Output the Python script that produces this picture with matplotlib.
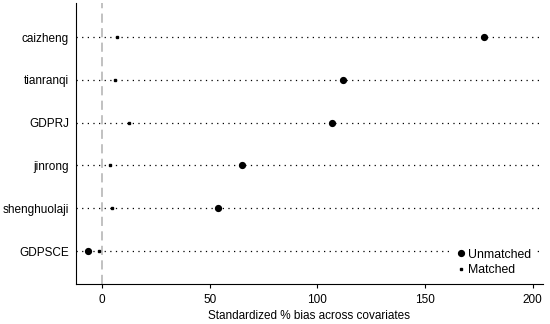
import numpy as np
import matplotlib
matplotlib.use('Agg')
import matplotlib.pyplot as plt

plt.rcParams['font.family'] = ['Liberation Sans', 'DejaVu Sans']

# Covariates, bottom to top
covariates = ['GDPSCE', 'shenghuolaji', 'jinrong', 'GDPRJ', 'tianranqi', 'caizheng']
unmatched = [-6.8, 53.8, 65.2, 106.8, 111.7, 177.4]
matched = [-1.4, 4.4, 3.6, 12.3, 6.2, 7.0]
xticks = [0, 50, 100, 150, 200]

fig = plt.figure(figsize=(5.5, 3.24), dpi=100)
ax = fig.add_axes([0.138, 0.1235, 0.849, 0.8665])

y = np.arange(len(covariates))
xmin, xmax = -12.2, 204.8

# dotted guide lines for each covariate
for yi in y:
    ax.plot([xmin, xmax], [yi, yi], color='black', linestyle=(0, (1, 3.5)), linewidth=0.9, zorder=1)

ax.axvline(0, color='#b0b0b0', linestyle=(0, (6, 3.5)), linewidth=1.1, zorder=0)

ax.plot(unmatched, y, 'o', color='black', markersize=4.2, linestyle='none', label='Unmatched', zorder=3)
ax.plot(matched, y, 's', color='black', markersize=2.0, linestyle='none', label='Matched', zorder=3)

ax.set_xlim(xmin, xmax)
ax.set_ylim(-0.77, 5.79)
ax.set_yticks(y)
ax.set_yticklabels(covariates, fontsize=8.5)
ax.tick_params(axis='y', length=0, pad=5)
ax.set_xticks(xticks)
ax.set_xticklabels([str(t) for t in xticks], fontsize=8.5)
ax.tick_params(axis='x', length=3, pad=4)
ax.set_xlabel('Standardized % bias across covariates', fontsize=8.5, labelpad=3)

ax.spines['top'].set_visible(False)
ax.spines['right'].set_visible(False)

leg = ax.legend(loc='lower right', frameon=True, fontsize=8.8, handletextpad=0.15,
                borderaxespad=0.3, labelspacing=0.3, handlelength=1.0,
                borderpad=0.2, fancybox=False, framealpha=1.0,
                bbox_to_anchor=(0.989, 0.006))
leg.get_frame().set_edgecolor('none')
leg.get_frame().set_facecolor('white')

fig.savefig('out.png', dpi=100)
